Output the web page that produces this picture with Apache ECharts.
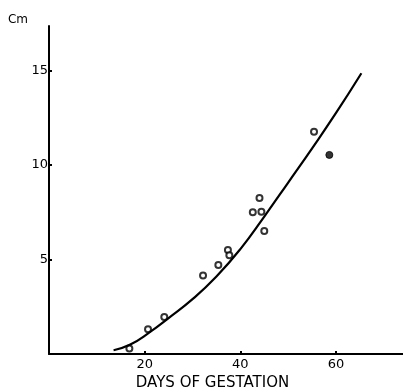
<!DOCTYPE html>
<html>
<head>
<meta charset="utf-8">
<script src="https://cdn.jsdelivr.net/npm/echarts@6/dist/echarts.min.js"></script>
<style>html,body{margin:0;padding:0;background:#fff}#c{width:403px;height:389px}</style>
</head>
<body>
<div id="c"></div>
<script>
// Observed measurements (days of gestation, length in cm)
const openDays = [16.8, 20.7, 24.1, 32.2, 35.4, 37.4, 37.7, 42.6, 44.0, 44.4, 45.0, 55.4];
const openCm   = [0.29, 1.31, 1.96, 4.15, 4.71, 5.50, 5.22, 7.50, 8.25, 7.53, 6.51, 11.76];
const filledDays = [58.6];
const filledCm   = [10.53];
// Fitted growth curve
const curveDays = [13.5, 17, 21, 25, 30, 35, 40, 45, 50, 55, 60, 65.3];
const curveCm   = [0.2, 0.5, 1.14, 1.9, 2.9, 4.1, 5.55, 7.27, 9.07, 10.88, 12.75, 14.85];
const xTicks = [20, 40, 60];
const yTicks = [5, 10, 15];

const zip = (a, b) => a.map((v, i) => [v, b[i]]);
const font = '"DejaVu Sans", sans-serif';

const chart = echarts.init(document.getElementById('c'), null, {renderer: 'canvas'});
chart.setOption({
  animation: false,
  backgroundColor: '#fff',
  grid: {left: 49, right: 0, top: 26, bottom: 35, containLabel: false, outerBoundsMode: 'none'},
  xAxis: {
    type: 'value', min: 0, max: 74, interval: 20,
    splitLine: {show: false},
    axisLine: {lineStyle: {color: '#000', width: 2}},
    axisTick: {show: true, inside: true, length: 3, lineStyle: {color: '#000', width: 2}, customValues: xTicks},
    axisLabel: {color: '#000', fontSize: 13, fontFamily: font, margin: 4, customValues: xTicks},
    name: 'DAYS OF GESTATION', nameLocation: 'middle', nameGap: 20,
    nameTextStyle: {color: '#000', fontSize: 15, fontFamily: font, padding: [0, 27, 0, 0]}
  },
  yAxis: {
    type: 'value', min: 0, max: 17.35, interval: 5,
    splitLine: {show: false},
    axisLine: {lineStyle: {color: '#000', width: 2}},
    axisTick: {show: true, inside: true, length: 3, lineStyle: {color: '#000', width: 2}, customValues: yTicks},
    axisLabel: {color: '#000', fontSize: 13, fontFamily: font, margin: 1, padding: [5, 0, 0, 0], customValues: yTicks},
    name: 'Cm', nameLocation: 'end', nameGap: 0,
    nameTextStyle: {color: '#000', fontSize: 12, fontFamily: font, align: 'right', padding: [0, 21, 0, 0]}
  },
  series: [
    {
      type: 'line', data: zip(curveDays, curveCm), smooth: true, symbol: 'none',
      lineStyle: {color: '#000', width: 2.2}
    },
    {
      type: 'scatter', data: zip(openDays, openCm), symbol: 'circle', symbolSize: 6,
      itemStyle: {color: '#fff', borderColor: '#000', borderWidth: 2}
    },
    {
      type: 'scatter', data: zip(filledDays, filledCm), symbol: 'circle', symbolSize: 7,
      itemStyle: {color: '#000', borderColor: '#000', borderWidth: 1}
    }
  ]
});
</script>
</body>
</html>
